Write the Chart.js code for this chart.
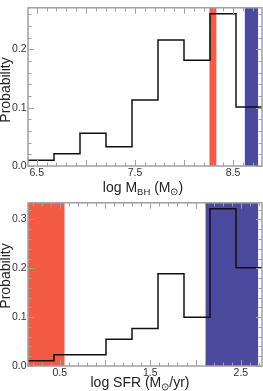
<!DOCTYPE html>
<html>
<head>
<meta charset="utf-8">
<script src="https://cdn.jsdelivr.net/npm/chart.js@4.4.1/dist/chart.umd.min.js"></script>
<style>
  html, body { margin: 0; padding: 0; background: #fff; }
  .wrap { position: relative; width: 263px; }
  #top { height: 195px; }
  #bottom { height: 196px; }
</style>
</head>
<body>
<div class="wrap" id="top"><canvas id="mbhChart"></canvas></div>
<div class="wrap" id="bottom"><canvas id="sfrChart"></canvas></div>
<script>
// black hole mass panel
const mbhEdges = [6.41, 6.675, 6.94, 7.205, 7.47, 7.735, 8.0, 8.265, 8.53, 8.795];
const mbhProb = [0.010, 0.021, 0.056, 0.033, 0.113, 0.216, 0.181, 0.261, 0.101];
const mbhRedBand = [8.26, 8.33];
const mbhBlueBand = [8.62, 8.755];
const mbhXTicks = [6.5, 7.5, 8.5];
const mbhYTicks = [0.0, 0.1, 0.2];

// star formation rate panel
const sfrEdges = [0.15, 0.437, 0.724, 1.011, 1.298, 1.585, 1.872, 2.159, 2.446, 2.733];
const sfrProb = [0.011, 0.023, 0.023, 0.055, 0.077, 0.189, 0.100, 0.322, 0.201];
const sfrRedBand = [0.15, 0.553];
const sfrBlueBand = [2.11, 2.69];
const sfrXTicks = [0.5, 1.5, 2.5];
const sfrYTicks = [0.0, 0.1, 0.2, 0.3];

const FONT = '"Liberation Sans", Arial, sans-serif';
const RED = '#f45b45';
const BLUE = '#4c4a9e';

function stepPoints(edges, values) {
    const pts = values.map((v, i) => ({x: edges[i], y: v}));
    pts.push({x: edges[edges.length - 1], y: values[values.length - 1]});
    return pts;
}

function drawRich(ctx, parts, cx, cy) {
    const big = '14px ' + FONT, small = '9.5px ' + FONT;
    let total = 0;
    parts.forEach(p => {
        ctx.font = p.sub ? small : big;
        total += ctx.measureText(p.t).width;
    });
    let x = cx - total / 2;
    ctx.textBaseline = 'middle';
    ctx.textAlign = 'left';
    parts.forEach(p => {
        ctx.font = p.sub ? small : big;
        ctx.fillText(p.t, x, p.sub ? cy + 4 : cy);
        x += ctx.measureText(p.t).width;
    });
}

const framePlugin = {
    id: 'frame',
    beforeDatasetsDraw(chart, args, opts) {
        const {ctx, chartArea: a, scales} = chart;
        ctx.save();
        ctx.beginPath();
        ctx.rect(a.left, a.top, a.right - a.left, a.bottom - a.top);
        ctx.clip();
        opts.bands.forEach(b => {
            const x0 = scales.x.getPixelForValue(b.range[0]);
            const x1 = scales.x.getPixelForValue(b.range[1]);
            ctx.fillStyle = b.color;
            ctx.fillRect(x0, a.top, x1 - x0, a.bottom - a.top);
        });
        ctx.restore();
    },
    afterDraw(chart, args, opts) {
        const {ctx, chartArea: a, scales} = chart;
        ctx.save();
        ctx.strokeStyle = '#a0a0a0';
        ctx.lineWidth = 1;
        // minor ticks, inward on all sides
        ctx.beginPath();
        for (let v = Math.ceil(scales.x.min / opts.xMinor) * opts.xMinor; v <= scales.x.max; v += opts.xMinor) {
            const px = Math.round(scales.x.getPixelForValue(v)) + 0.5;
            const major = Math.abs(v / opts.xMajor - Math.round(v / opts.xMajor)) < 1e-6;
            const len = major ? 6 : 3.5;
            ctx.moveTo(px, a.bottom); ctx.lineTo(px, a.bottom - len);
            ctx.moveTo(px, a.top); ctx.lineTo(px, a.top + len);
        }
        for (let v = 0; v <= scales.y.max + 1e-9; v += opts.yMinor) {
            const py = Math.round(scales.y.getPixelForValue(v)) + 0.5;
            const major = Math.abs(v / opts.yMajor - Math.round(v / opts.yMajor)) < 1e-6;
            const len = major ? 6 : 3.5;
            ctx.moveTo(a.left, py); ctx.lineTo(a.left + len, py);
            ctx.moveTo(a.right, py); ctx.lineTo(a.right - len, py);
        }
        ctx.stroke();
        ctx.lineWidth = 1.5;
        ctx.strokeRect(a.left, a.top, a.right - a.left, a.bottom - a.top);

        ctx.fillStyle = '#222';
        drawRich(ctx, opts.xTitle, opts.xTitleX, opts.xTitleY);
        ctx.translate(6, opts.yTitleY);
        ctx.rotate(-Math.PI / 2);
        ctx.font = '14px ' + FONT;
        ctx.textAlign = 'center';
        ctx.textBaseline = 'middle';
        ctx.fillText('Probability', 0, 0);
        ctx.restore();
    }
};

function makeChart(id, cfg) {
    return new Chart(document.getElementById(id).getContext('2d'), {
        type: 'line',
        data: {
            datasets: [{
                data: stepPoints(cfg.edges, cfg.values),
                stepped: 'before',
                borderColor: '#111',
                borderWidth: 1.5,
                pointRadius: 0,
                fill: false
            }]
        },
        options: {
            responsive: true,
            maintainAspectRatio: false,
            animation: false,
            events: [],
            layout: {padding: {top: cfg.padTop, right: 1, left: 0, bottom: 0}},
            plugins: {
                legend: {display: false},
                tooltip: {enabled: false},
                frame: {
                    bands: [{range: cfg.red, color: RED}, {range: cfg.blue, color: BLUE}],
                    xMinor: 0.1, xMajor: 0.5, yMinor: 0.02, yMajor: 0.1,
                    xTitle: cfg.xTitle, xTitleX: cfg.xTitleX, xTitleY: 188,
                    yTitleY: cfg.yTitleY
                }
            },
            scales: {
                x: {
                    type: 'linear',
                    min: cfg.edges[0],
                    max: cfg.edges[cfg.edges.length - 1],
                    grid: {display: false, drawTicks: false},
                    border: {display: false},
                    afterBuildTicks: s => { s.ticks = cfg.xTicks.map(v => ({value: v})); },
                    afterFit: s => { s.height = cfg.xHeight; },
                    ticks: {
                        padding: 1,
                        color: '#333',
                        font: {family: FONT, size: 10.5},
                        maxRotation: 0,
                        autoSkip: false,
                        callback: v => v.toFixed(1)
                    }
                },
                y: {
                    min: 0,
                    max: cfg.yMax,
                    grid: {display: false, drawTicks: false},
                    border: {display: false},
                    afterBuildTicks: s => { s.ticks = cfg.yTicks.map(v => ({value: v})); },
                    afterFit: s => { s.width = 28; },
                    ticks: {
                        padding: 1.5,
                        color: '#333',
                        font: {family: FONT, size: 10.5},
                        callback: v => v.toFixed(1)
                    }
                }
            }
        },
        plugins: [framePlugin]
    });
}

makeChart('mbhChart', {
    edges: mbhEdges, values: mbhProb, red: mbhRedBand, blue: mbhBlueBand,
    xTicks: mbhXTicks, yTicks: mbhYTicks, yMax: 0.271,
    padTop: 1, xHeight: 29,
    xTitle: [{t: 'log M'}, {t: 'BH', sub: true}, {t: ' (M'}, {t: '\u2299', sub: true}, {t: ')'}],
    xTitleX: 143, yTitleY: 90
});

makeChart('sfrChart', {
    edges: sfrEdges, values: sfrProb, red: sfrRedBand, blue: sfrBlueBand,
    xTicks: sfrXTicks, yTicks: sfrYTicks, yMax: 0.334,
    padTop: 4, xHeight: 25,
    xTitle: [{t: 'log SFR (M'}, {t: '\u2299', sub: true}, {t: '/yr)'}],
    xTitleX: 140, yTitleY: 81
});
</script>
</body>
</html>
